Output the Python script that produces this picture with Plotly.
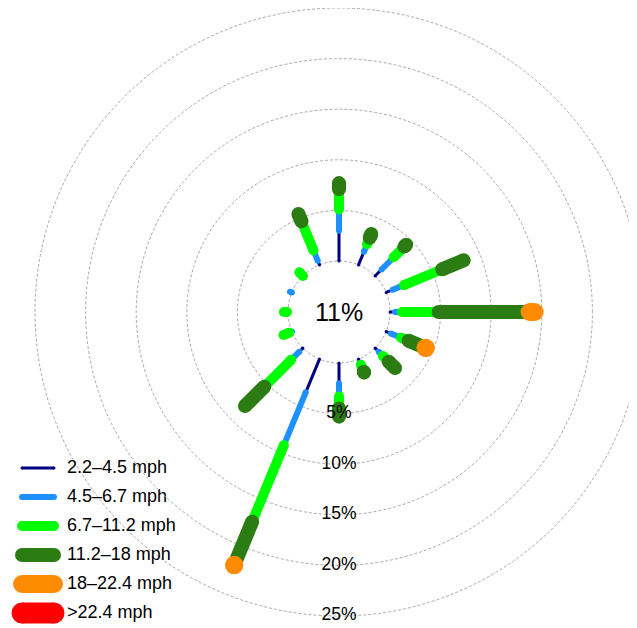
import plotly.graph_objects as go

# ---------------- data ----------------
DIRECTIONS = ["N", "NNE", "NE", "ENE", "E", "ESE", "SE", "SSE",
              "S", "SSW", "SW", "WSW", "W", "WNW", "NW", "NNW"]
SPEED_BINS = ["2.2\u20134.5 mph", "4.5\u20136.7 mph", "6.7\u201311.2 mph",
              "11.2\u201318 mph", "18\u201322.4 mph", ">22.4 mph"]
# frequency of counts (%) by direction, one list per speed bin
FREQ_2_4 = [3.0, 1.4, 0.9, 0.7, 0.5, 0.5, 0.5, 0.45, 2.0, 3.55, 0.5, 0.0, 0.0, 0.0, 0.0, 0.45]
FREQ_4_6 = [2.1, 0.8, 1.7, 1.2, 0.7, 1.1, 0.6, 0.15, 1.3, 5.65, 1.15, 0.3, 0.1, 0.2, 0.0, 1.1]
FREQ_6_11 = [2.0, 0.7, 1.5, 4.1, 3.6, 0.8, 0.8, 0.75, 1.2, 8.2, 3.75, 0.6, 0.3, 0.0, 0.5, 3.1]
FREQ_11_18 = [0.6, 0.4, 0.25, 2.3, 9.0, 1.8, 0.9, 0.1, 0.8, 4.6, 2.7, 0.0, 0.0, 0.0, 0.0, 0.8]
FREQ_18_22 = [0.0, 0.0, 0.0, 0.0, 0.5, 0.05, 0.0, 0.0, 0.0, 0.05, 0.0, 0.0, 0.0, 0.0, 0.0, 0.0]
FREQ_22P = [0.0, 0.0, 0.0, 0.0, 0.0, 0.0, 0.0, 0.0, 0.0, 0.0, 0.0, 0.0, 0.0, 0.0, 0.0, 0.0]
CALM = 11
RING_TICKS = [5, 10, 15, 20]
RING_LABELS = [5, 10, 15, 20, 25]
R_MAX = 25

# ---------------- style ----------------
COLORS = ["#000080", "#1E90FF", "#00FF00", "#2C7C14", "#FF8C00", "#FF0000"]
WIDTHS = [3, 6, 10, 14, 18, 21]
FONT = "Liberation Sans, Arial, Helvetica, sans-serif"
W, H = 637, 628
CX, CY, R = 331, 304, 304     # polar centre / outer radius (figure px)
HOLE_PX = 51
GRID = dict(color="#A8A8A8", width=1, dash="3px,2px")

series = [FREQ_2_4, FREQ_4_6, FREQ_6_11, FREQ_11_18, FREQ_18_22, FREQ_22P]
angles = [i * 360.0 / len(DIRECTIONS) for i in range(len(DIRECTIONS))]

fig = go.Figure()

cum = [0.0] * len(DIRECTIONS)
for k, vals in enumerate(series):
    rr, tt = [], []
    for i, v in enumerate(vals):
        if v > 0:
            rr += [cum[i], cum[i] + v, None]
            tt += [angles[i], angles[i], None]
            cum[i] += v
    if rr:
        fig.add_trace(go.Scatterpolar(
            r=rr, theta=tt, mode="lines+markers",
            line=dict(color=COLORS[k], width=WIDTHS[k]),
            marker=dict(color=COLORS[k], size=WIDTHS[k], line=dict(width=0)),
            showlegend=False, hoverinfo="skip", cliponaxis=False))

# ring labels along the south spoke
fig.add_trace(go.Scatterpolar(
    r=RING_LABELS, theta=[180] * len(RING_LABELS), mode="text",
    text=[f"{v}%" for v in RING_LABELS], textposition="middle center",
    textfont=dict(family=FONT, size=17.5, color="black"),
    showlegend=False, hoverinfo="skip", cliponaxis=False))

# custom legend drawn on a hidden cartesian subplot (px-like units)
LEG_X = [14, 46]
LEG_TEXT_X = 59
LEG_Y0, LEG_DY = 460, 29
for k, name in enumerate(SPEED_BINS):
    y = LEG_Y0 + k * LEG_DY
    fig.add_trace(go.Scatter(
        x=LEG_X, y=[y, y], mode="lines+markers",
        line=dict(color=COLORS[k], width=WIDTHS[k]),
        marker=dict(color=COLORS[k], size=WIDTHS[k], line=dict(width=0)),
        showlegend=False, hoverinfo="skip", xaxis="x", yaxis="y",
        cliponaxis=False))
fig.add_trace(go.Scatter(
    x=[LEG_TEXT_X] * len(SPEED_BINS),
    y=[LEG_Y0 + k * LEG_DY for k in range(len(SPEED_BINS))],
    mode="text", text=SPEED_BINS, textposition="middle right",
    textfont=dict(family=FONT, size=18, color="black"),
    showlegend=False, hoverinfo="skip", cliponaxis=False))

fig.add_annotation(x=CX / W, y=1 - CY / H, xref="paper", yref="paper",
                   text=f"{CALM}%", showarrow=False,
                   font=dict(family=FONT, size=25, color="black"),
                   xanchor="center", yanchor="middle")

# inner (0 %) and outer (25 %) rings, which sit on the polar edges
for rad in (HOLE_PX, R):
    fig.add_shape(type="circle", xref="paper", yref="paper",
                  x0=(CX - rad) / W, x1=(CX + rad) / W,
                  y0=1 - (CY + rad) / H, y1=1 - (CY - rad) / H,
                  line=GRID, layer="below")

fig.update_layout(
    width=W, height=H, template="none",
    margin=dict(l=0, r=0, t=0, b=0, pad=0),
    paper_bgcolor="white", plot_bgcolor="rgba(0,0,0,0)",
    font=dict(family=FONT, color="black"),
    showlegend=False,
    polar=dict(
        domain=dict(x=[(CX - R) / W, (CX + R) / W],
                    y=[1 - (CY + R) / H, 1 - (CY - R) / H]),
        hole=HOLE_PX / R,
        bgcolor="rgba(0,0,0,0)",
        radialaxis=dict(range=[0, R_MAX], tickvals=RING_TICKS,
                        showticklabels=False, ticks="", showline=False,
                        showgrid=True, gridcolor=GRID["color"],
                        gridwidth=GRID["width"], griddash=GRID["dash"]),
        angularaxis=dict(direction="clockwise", rotation=90,
                         showgrid=False, showline=False, ticks="",
                         showticklabels=False),
    ),
    xaxis=dict(domain=[0, 200 / W], range=[0, 200], visible=False,
               fixedrange=True),
    yaxis=dict(domain=[0, 200 / H], range=[H, H - 200], visible=False,
               fixedrange=True),
)

fig.write_html("out.html")
